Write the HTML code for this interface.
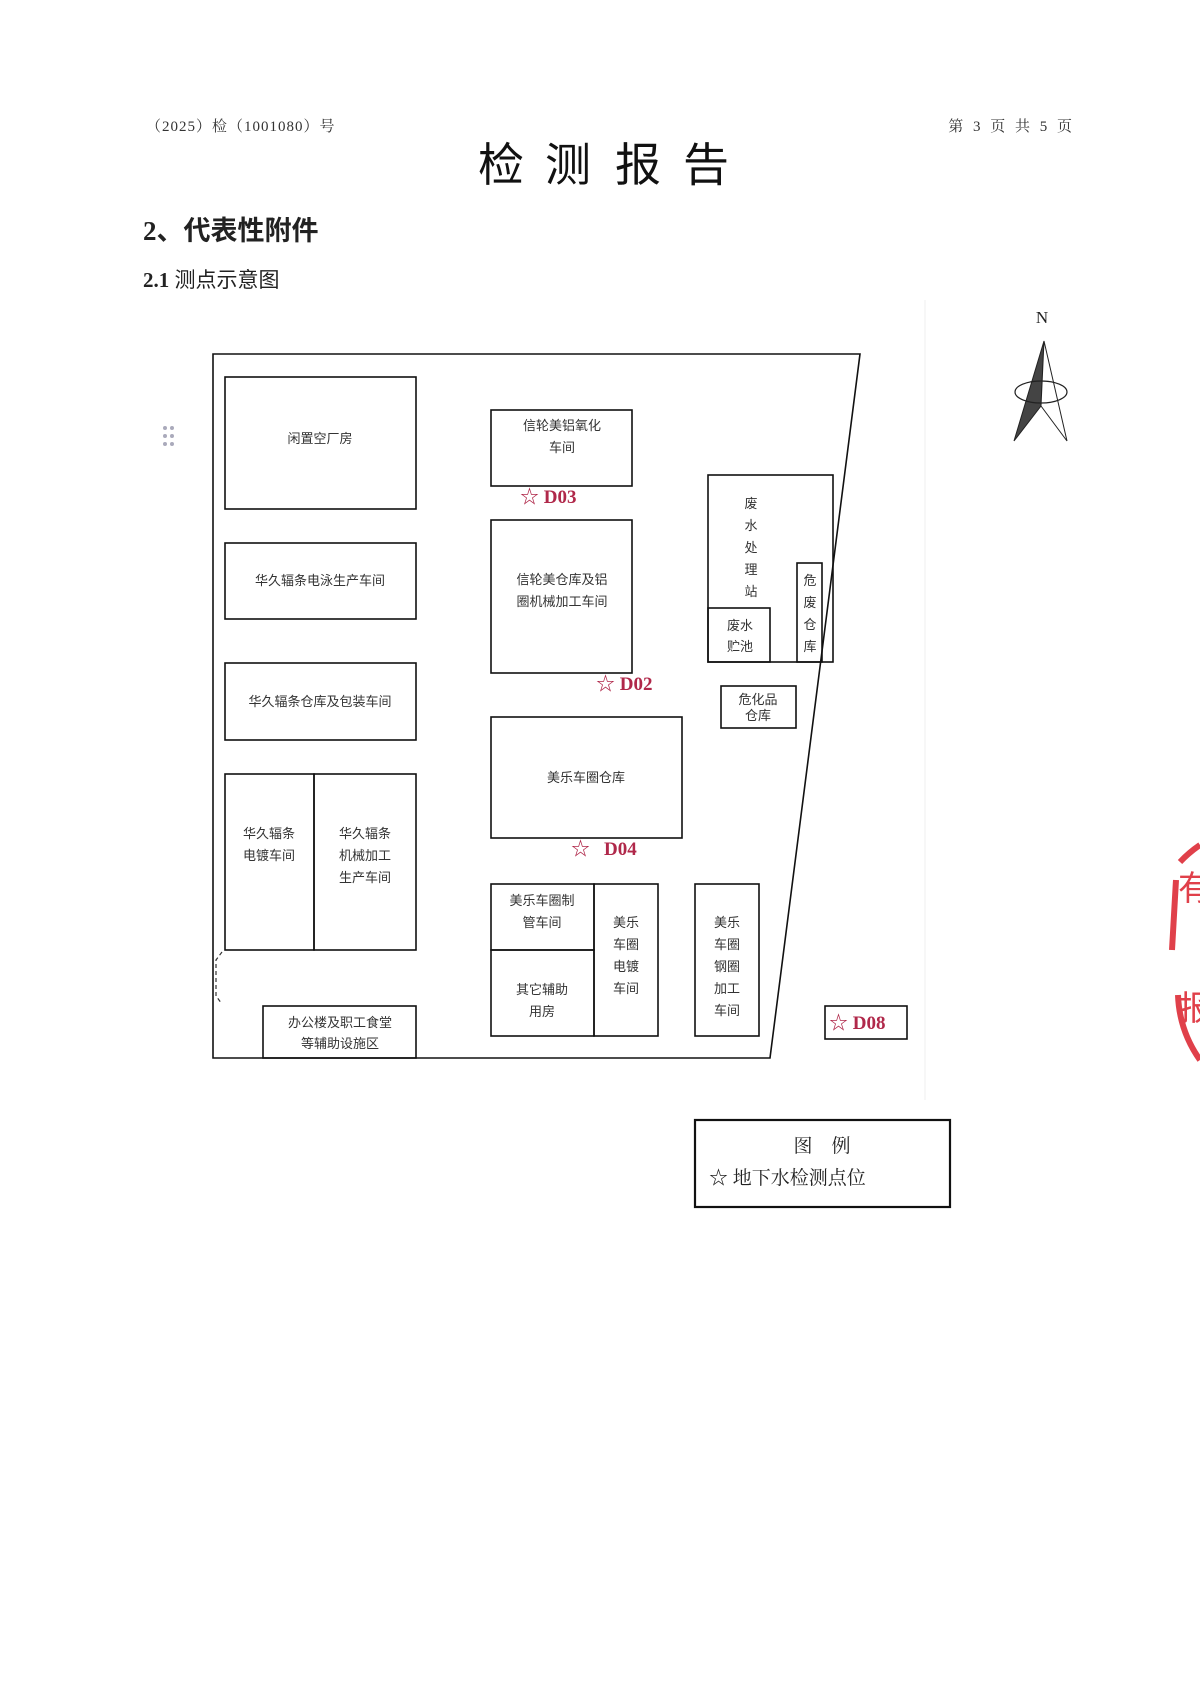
<!DOCTYPE html>
<html><head><meta charset="utf-8"><style>
html,body{margin:0;padding:0;background:#fff;}
svg{display:block;}
</style></head><body>
<svg width="1200" height="1697" viewBox="0 0 1200 1697" xmlns="http://www.w3.org/2000/svg" font-family="'Liberation Serif','Noto Serif CJK SC',serif">
<rect width="1200" height="1697" fill="#fff"/>
<text x="146" y="131" font-size="15" fill="#333" letter-spacing="1">（2025）检（1001080）号</text>
<text x="1075" y="131" font-size="15" fill="#333" text-anchor="end" letter-spacing="3">第 3 页 共 5 页</text>
<g font-size="46" fill="#111" text-anchor="middle" font-family="'Liberation Sans','Noto Sans CJK SC',sans-serif">
<text x="501" y="181">检</text><text x="568" y="181">测</text><text x="638" y="181">报</text><text x="706" y="181">告</text>
</g>
<text x="143" y="240" font-size="27" fill="#222" font-weight="bold" font-family="'Liberation Serif','Noto Sans CJK SC',serif">2、代表性附件</text>
<text x="143" y="287" font-size="21" fill="#222" font-family="'Liberation Serif','Noto Sans CJK SC',serif"><tspan font-weight="bold">2.1</tspan> 测点示意图</text>
<line x1="925" y1="300" x2="925" y2="1100" stroke="#f7f7f7" stroke-width="2"/>
<g fill="#aab" ><circle cx="165" cy="428" r="2"/><circle cx="172" cy="428" r="2"/><circle cx="165" cy="436" r="2"/><circle cx="172" cy="436" r="2"/><circle cx="165" cy="444" r="2"/><circle cx="172" cy="444" r="2"/></g>
<g fill="none" stroke="#111" stroke-width="1.6">
<polygon points="213,354 860,354 770,1058 213,1058"/>
<rect x="225" y="377" width="191" height="132"/>
<rect x="225" y="543" width="191" height="76"/>
<rect x="225" y="663" width="191" height="77"/>
<rect x="225" y="774" width="89" height="176"/>
<rect x="314" y="774" width="102" height="176"/>
<rect x="263" y="1006" width="153" height="52"/>
<rect x="491" y="410" width="141" height="76"/>
<rect x="491" y="520" width="141" height="153"/>
<rect x="491" y="717" width="191" height="121"/>
<rect x="491" y="884" width="103" height="66"/>
<rect x="491" y="950" width="103" height="86"/>
<rect x="594" y="884" width="64" height="152"/>
<rect x="695" y="884" width="64" height="152"/>
<rect x="708" y="475" width="125" height="187"/>
<rect x="708" y="608" width="62" height="54"/>
<rect x="797" y="563" width="25" height="99"/>
<rect x="721" y="686" width="75" height="42"/>
<rect x="825" y="1006" width="82" height="33"/>
<rect x="695" y="1120" width="255" height="87" stroke-width="2.2"/>
</g>
<path d="M222 952 L216 960 L216 996 L222 1004" fill="none" stroke="#333" stroke-width="1.2" stroke-dasharray="4,3"/>
<g font-family="'Liberation Sans','WenQuanYi Zen Hei',sans-serif" font-size="13" fill="#333" text-anchor="middle">
<text x="320" y="443">闲置空厂房</text>
<text x="320" y="585">华久辐条电泳生产车间</text>
<text x="320" y="706">华久辐条仓库及包装车间</text>
<text x="269" y="838">华久辐条</text><text x="269" y="860">电镀车间</text>
<text x="365" y="838">华久辐条</text><text x="365" y="860">机械加工</text><text x="365" y="882">生产车间</text>
<text x="340" y="1027">办公楼及职工食堂</text><text x="340" y="1048">等辅助设施区</text>
<text x="562" y="430">信轮美铝氧化</text><text x="562" y="452">车间</text>
<text x="562" y="584">信轮美仓库及铝</text><text x="562" y="606">圈机械加工车间</text>
<text x="586" y="782">美乐车圈仓库</text>
<text x="542" y="905">美乐车圈制</text><text x="542" y="927">管车间</text>
<text x="542" y="994">其它辅助</text><text x="542" y="1016">用房</text>
<text x="626" y="927">美乐</text><text x="626" y="949">车圈</text><text x="626" y="971">电镀</text><text x="626" y="993">车间</text>
<text x="727" y="927">美乐</text><text x="727" y="949">车圈</text><text x="727" y="971">钢圈</text><text x="727" y="993">加工</text><text x="727" y="1015">车间</text>
<text x="751" y="508">废</text><text x="751" y="530">水</text><text x="751" y="552">处</text><text x="751" y="574">理</text><text x="751" y="596">站</text>
<text x="740" y="630">废水</text><text x="740" y="651">贮池</text>
<text x="810" y="585">危</text><text x="810" y="607">废</text><text x="810" y="629">仓</text><text x="810" y="651">库</text>
<text x="758" y="704">危化品</text><text x="758" y="720">仓库</text>
</g>
<g font-size="19" font-weight="bold" fill="#b0284a">
<text x="520" y="503">☆ D03</text>
<text x="596" y="690">☆ D02</text>
<text x="571" y="855">☆</text><text x="604" y="855">D04</text>
<text x="829" y="1029">☆ D08</text>
</g>
<text x="822" y="1152" font-size="19" fill="#222" text-anchor="middle" font-family="'Liberation Serif','Noto Serif CJK SC',serif">图　例</text>
<text x="709" y="1184" font-size="19" fill="#222" font-family="'Liberation Serif','Noto Serif CJK SC',serif">☆ 地下水检测点位</text>
<text x="1042" y="323" font-size="17" fill="#222" text-anchor="middle">N</text>
<polygon points="1044,341 1041,406 1014,441" fill="#444" stroke="#222" stroke-width="1"/>
<polygon points="1044,341 1041,406 1067,441" fill="#fff" stroke="#222" stroke-width="1"/>
<ellipse cx="1041" cy="392" rx="26" ry="11" fill="none" stroke="#222" stroke-width="1.2"/>
<path d="M1200 845 A120 120 0 0 0 1180 862 M1176 880 L1172 950 M1178 995 A120 120 0 0 0 1200 1060" fill="none" stroke="#e0404a" stroke-width="6"/>
<text x="1178" y="900" font-size="34" fill="#e0404a" font-family="'Noto Sans CJK SC',sans-serif">有</text>
<text x="1178" y="1020" font-size="34" fill="#e0404a" font-family="'Noto Sans CJK SC',sans-serif">报</text>
</svg>
</body></html>
